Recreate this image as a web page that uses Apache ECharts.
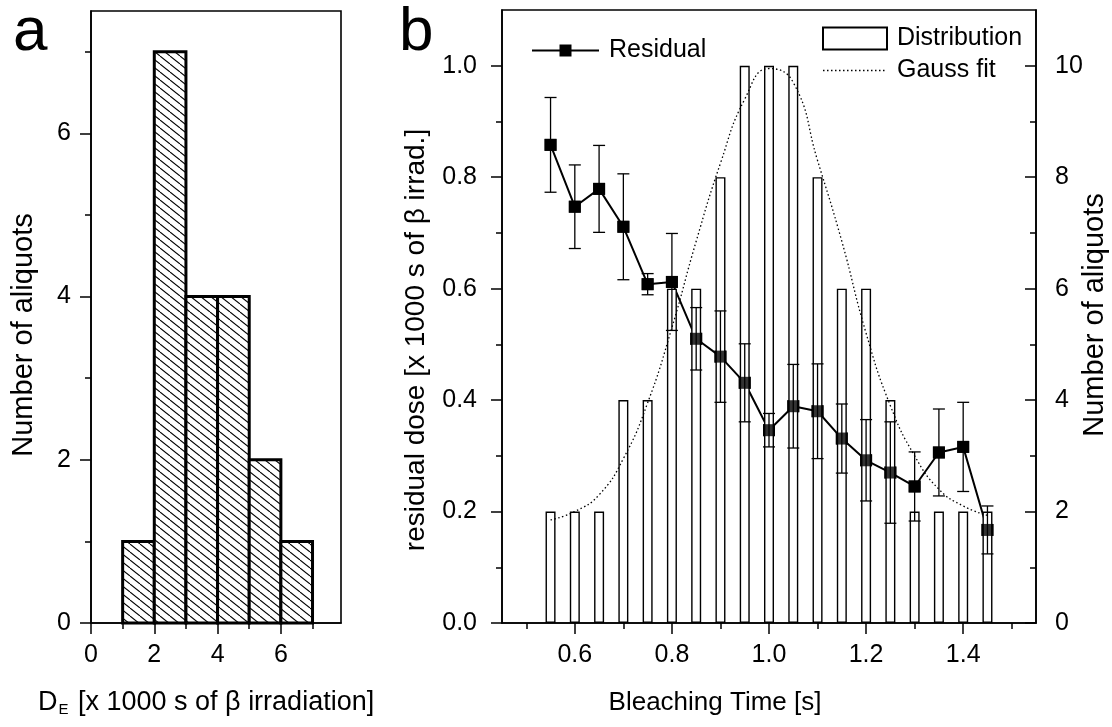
<!DOCTYPE html>
<html>
<head>
<meta charset="utf-8">
<script src="https://cdn.jsdelivr.net/npm/echarts@6/dist/echarts.min.js"></script>
<style>
html,body{margin:0;padding:0;background:#fff;}
#chart{width:1112px;height:727px;}
</style>
</head>
<body>
<div id="chart"></div>
<script>
// ---------- Panel a: histogram of D_E ----------
const histStart = [1, 2, 3, 4, 5, 6];
const histEnd   = [2, 3, 4, 5, 6, 7];
const histCount = [1, 7, 4, 4, 2, 1];
const aXMajor = [0, 2, 4, 6];
const aXMinor = [1, 3, 5, 7];
const aYMajor = [0, 2, 4, 6];
const aYMinor = [1, 3, 5, 7];

// ---------- Panel b ----------
const bleachTime   = [0.55, 0.60, 0.65, 0.70, 0.75, 0.80, 0.85, 0.90, 0.95, 1.00, 1.05, 1.10, 1.15, 1.20, 1.25, 1.30, 1.35, 1.40, 1.45];
const distribution = [2, 2, 2, 4, 4, 6, 6, 8, 10, 10, 10, 8, 6, 6, 4, 2, 2, 2, 2];
const gaussFit     = [1.85, 2.0, 2.3, 2.95, 3.95, 5.3, 6.85, 8.25, 9.4, 9.95, 9.7, 8.3, 6.85, 5.2, 3.9, 3.0, 2.4, 2.1, 1.93];
const residual     = [0.858, 0.747, 0.779, 0.711, 0.608, 0.612, 0.510, 0.478, 0.431, 0.346, 0.389, 0.380, 0.331, 0.292, 0.270, 0.245, 0.306, 0.316, 0.167];
const residualErr  = [0.085, 0.075, 0.078, 0.095, 0.019, 0.087, 0.056, 0.082, 0.070, 0.030, 0.075, 0.085, 0.062, 0.073, 0.091, 0.062, 0.078, 0.080, 0.043];
const bXMajor = [0.6, 0.8, 1.0, 1.2, 1.4];
const bXMinor = [0.5, 0.7, 0.9, 1.1, 1.3, 1.5];
const bYLeftMajor = [0, 0.2, 0.4, 0.6, 0.8, 1.0];
const bYLeftMinor = [0.1, 0.3, 0.5, 0.7, 0.9];
const bYRightMajor = [0, 2, 4, 6, 8, 10];
const bYRightMinor = [1, 3, 5, 7, 9];

const FONT = "'Liberation Sans', Arial, sans-serif";
const BLACK = '#000';

// hatch pattern for panel a
const hatch = document.createElement('canvas');
hatch.width = 10; hatch.height = 8;
(function () {
  const c = hatch.getContext('2d');
  c.fillStyle = '#fff'; c.fillRect(0, 0, 10, 8);
  c.strokeStyle = '#000'; c.lineWidth = 1.1;
  [-10, 0, 10].forEach(function (o) {
    c.beginPath(); c.moveTo(o, 0); c.lineTo(o + 10, 8); c.stroke();
  });
})();

const chart = echarts.init(document.getElementById('chart'), null, {renderer: 'canvas'});

function majorAxis(extra) {
  return Object.assign({
    type: 'value',
    axisLine: {show: true, onZero: false, lineStyle: {color: BLACK, width: 1.6}},
    splitLine: {show: false},
  }, extra);
}
function tickStyle(vals, len, inside) {
  return {show: true, customValues: vals, length: len, inside: !!inside, lineStyle: {color: BLACK, width: 1.5}};
}
function labelStyle(vals, margin, fmt) {
  const o = {show: true, customValues: vals, margin: margin, color: BLACK, fontSize: 25, fontFamily: FONT};
  if (fmt) o.formatter = fmt;
  return o;
}
function minorAxis(extra) {
  return Object.assign({
    type: 'value',
    axisLine: {show: false, onZero: false},
    axisLabel: {show: false},
    splitLine: {show: false}
  }, extra);
}

const legendText = {color: BLACK, fontSize: 25, fontFamily: FONT, lineHeight: 25, padding: [0, 0, 0, 5]};

const option = {
  animation: false,
  backgroundColor: '#fff',
  grid: [
    {left: 91, top: 11, width: 250, height: 612, show: true, borderColor: BLACK, borderWidth: 1.6, containLabel: false},
    {left: 502, top: 10, width: 534, height: 613, show: true, borderColor: BLACK, borderWidth: 1.6, containLabel: false}
  ],
  xAxis: [
    majorAxis({gridIndex: 0, min: 0, max: 7.9, position: 'bottom',
      axisTick: tickStyle(aXMajor, 11), axisLabel: labelStyle(aXMajor, 20)}),
    minorAxis({gridIndex: 0, min: 0, max: 7.9, position: 'bottom', axisTick: tickStyle(aXMinor, 6)}),
    majorAxis({gridIndex: 1, min: 0.45, max: 1.55, position: 'bottom',
      axisTick: tickStyle(bXMajor, 11), axisLabel: labelStyle(bXMajor, 20, function (v) { return v.toFixed(1); })}),
    minorAxis({gridIndex: 1, min: 0.45, max: 1.55, position: 'bottom', axisTick: tickStyle(bXMinor, 6)})
  ],
  yAxis: [
    majorAxis({gridIndex: 0, min: 0, max: 7.5, position: 'left',
      axisTick: tickStyle(aYMajor, 11), axisLabel: labelStyle(aYMajor, 20)}),
    minorAxis({gridIndex: 0, min: 0, max: 7.5, position: 'left', axisTick: tickStyle(aYMinor, 6)}),
    majorAxis({gridIndex: 1, min: 0, max: 1.1, position: 'left',
      axisTick: tickStyle(bYLeftMajor, 11), axisLabel: labelStyle(bYLeftMajor, 25, function (v) { return v.toFixed(1); })}),
    minorAxis({gridIndex: 1, min: 0, max: 1.1, position: 'left', axisTick: tickStyle(bYLeftMinor, 6)}),
    majorAxis({gridIndex: 1, min: 0, max: 11, position: 'right',
      axisTick: tickStyle(bYRightMajor, 11, true), axisLabel: labelStyle(bYRightMajor, 19)}),
    minorAxis({gridIndex: 1, min: 0, max: 11, position: 'right', axisTick: tickStyle(bYRightMinor, 6, true)})
  ],
  legend: [
    {
      data: ['Residual'], left: 531, top: 38, orient: 'horizontal', padding: 0,
      itemWidth: 67, itemHeight: 15, selectedMode: false,
      textStyle: legendText
    },
    {
      data: [
        {name: 'Distribution', icon: 'rect'},
        {name: 'Gauss fit', itemStyle: {opacity: 0}, lineStyle: {color: BLACK, width: 1.3, type: [1.5, 2.5]}}
      ],
      left: 822, top: 26, orient: 'vertical', itemGap: 7, padding: 0,
      itemWidth: 64, itemHeight: 22, selectedMode: false,
      textStyle: legendText
    }
  ],
  series: [
    {
      name: 'Histogram', type: 'custom', xAxisIndex: 0, yAxisIndex: 0,
      data: histStart.map(function (s, i) { return [s, histEnd[i], histCount[i]]; }),
      encode: {x: [0, 1], y: 2},
      renderItem: function (params, api) {
        const p0 = api.coord([api.value(0), api.value(2)]);
        const p1 = api.coord([api.value(1), 0]);
        return {
          type: 'rect',
          shape: {x: p0[0], y: p0[1], width: p1[0] - p0[0], height: p1[1] - p0[1]},
          style: {fill: {image: hatch, repeat: 'repeat'}, stroke: BLACK, lineWidth: 3}
        };
      }
    },
    {
      name: 'Residual', type: 'line', xAxisIndex: 2, yAxisIndex: 2, z: 1,
      data: bleachTime.map(function (t, i) { return [t, residual[i]]; }),
      symbol: 'rect', symbolSize: 12,
      lineStyle: {color: BLACK, width: 2}, itemStyle: {color: BLACK}
    },
    {
      name: 'Distribution', type: 'bar', xAxisIndex: 2, yAxisIndex: 4, z: 2,
      data: bleachTime.map(function (t, i) { return [t, distribution[i]]; }),
      barWidth: 10,
      itemStyle: {color: '#fff', borderColor: BLACK, borderWidth: 1.4}
    },
    {
      name: 'Gauss fit', type: 'line', xAxisIndex: 2, yAxisIndex: 4, z: 3,
      data: bleachTime.map(function (t, i) { return [t, gaussFit[i]]; }),
      smooth: 0.5, symbol: 'none', itemStyle: {color: BLACK},
      lineStyle: {color: BLACK, width: 1.3, type: [1.5, 2.5]}
    },
    {
      name: 'Residual error', type: 'custom', xAxisIndex: 2, yAxisIndex: 2, z: 4,
      data: bleachTime.map(function (t, i) { return [t, residual[i], residualErr[i]]; }),
      encode: {x: 0, y: 1},
      renderItem: function (params, api) {
        const x = api.value(0), y = api.value(1), e = api.value(2);
        const top = api.coord([x, y + e]);
        const bot = api.coord([x, y - e]);
        const hw = 6;
        const st = {stroke: BLACK, lineWidth: 1.3};
        return {
          type: 'group',
          children: [
            {type: 'line', shape: {x1: top[0], y1: top[1], x2: bot[0], y2: bot[1]}, style: st},
            {type: 'line', shape: {x1: top[0] - hw, y1: top[1], x2: top[0] + hw, y2: top[1]}, style: st},
            {type: 'line', shape: {x1: bot[0] - hw, y1: bot[1], x2: bot[0] + hw, y2: bot[1]}, style: st}
          ]
        };
      }
    },
    {
      name: 'Residual points', type: 'scatter', xAxisIndex: 2, yAxisIndex: 2, z: 5,
      data: bleachTime.map(function (t, i) { return [t, residual[i]]; }),
      symbol: 'rect', symbolSize: 12, itemStyle: {color: BLACK}
    }
  ],
  graphic: [
    {type: 'text', x: 13, y: 33, style: {text: 'a', font: '62px ' + FONT, fill: BLACK, textAlign: 'left', textVerticalAlign: 'middle'}},
    {type: 'text', x: 399, y: 33, style: {text: 'b', font: '62px ' + FONT, fill: BLACK, textAlign: 'left', textVerticalAlign: 'middle'}},
    {type: 'text', x: 24, y: 335, rotation: Math.PI / 2,
      style: {text: 'Number of aliquots', font: '29px ' + FONT, fill: BLACK, textAlign: 'center', textVerticalAlign: 'middle'}},
    {type: 'text', x: 416, y: 340, rotation: Math.PI / 2,
      style: {text: 'residual dose [x 1000 s of \u03B2 irrad.]', font: '28px ' + FONT, fill: BLACK, textAlign: 'center', textVerticalAlign: 'middle'}},
    {type: 'text', x: 1095, y: 315, rotation: Math.PI / 2,
      style: {text: 'Number of aliquots', font: '29px ' + FONT, fill: BLACK, textAlign: 'center', textVerticalAlign: 'middle'}},
    {type: 'text', x: 38, y: 703,
      style: {
        text: '{m|D}{s|E}{m| [x 1000 s of \u03B2 irradiation]}',
        textAlign: 'left', textVerticalAlign: 'middle',
        rich: {
          m: {fontSize: 27, fontFamily: FONT, fill: BLACK, color: BLACK},
          s: {fontSize: 15, fontFamily: FONT, fill: BLACK, color: BLACK, padding: [14, 2, 0, 1]}
        }
      }},
    {type: 'text', x: 715, y: 703,
      style: {text: 'Bleaching Time [s]', font: '26px ' + FONT, fill: BLACK, textAlign: 'center', textVerticalAlign: 'middle'}}
  ]
};
chart.setOption(option);
</script>
</body>
</html>
